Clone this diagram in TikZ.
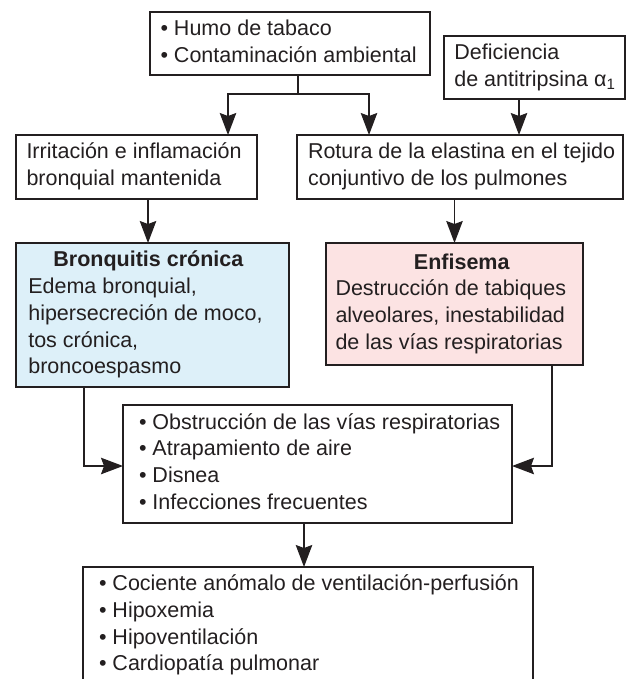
\documentclass[tikz,border=0pt]{standalone}
\usepackage{fontspec}
\setmainfont{Liberation Sans}
\usetikzlibrary{arrows.meta}
\definecolor{ink}{HTML}{231F20}
\definecolor{bluefill}{RGB}{221,240,249}
\definecolor{pinkfill}{RGB}{252,227,227}
\newcommand{\bx}[3]{\makebox[#1][l]{\hspace*{#2}\begin{tabular}{@{}l@{}}#3\end{tabular}}}
\begin{document}
\begin{tikzpicture}[x=1pt,y=-1pt,color=ink,line width=1.3pt,
  txt/.style={font=\fontsize{21.5}{26.7}\selectfont},
  boxnode/.style={draw=ink,rectangle,inner sep=0pt,outer sep=0pt,minimum height=#1,txt},
  arr/.style={-{Stealth[length=22pt,width=16.5pt,inset=3pt]}}]
\useasboundingbox (0,0) rectangle (630,679);
\clip (0,0) rectangle (630,679);
% boxes
\node[boxnode=63] (top) at (290,43.5) {\bx{280pt}{10.5pt}{• Humo de tabaco\\ • Contaminación ambiental}};
\node[boxnode=63] (def) at (534.5,67.5) {\bx{181pt}{10.3pt}{Deficiencia\\ de~antitripsina~α\textsubscript{1}}};
\node[boxnode=64] (irr) at (136.5,167) {\bx{241pt}{10.5pt}{Irritación e inflamación\\ bronquial mantenida}};
\node[boxnode=64] (rot) at (460,167) {\bx{326pt}{11pt}{Rotura de la elastina en el tejido\\ conjuntivo de los pulmones}};
\node[boxnode=144,fill=bluefill] (bron) at (152.5,315) {\bx{273pt}{12.3pt}{\multicolumn{1}{@{}c@{}}{\hspace*{6pt}\textbf{Bronquitis crónica}}\\ Edema bronquial,\\ hipersecreción de moco,\\ tos crónica,\\ broncoespasmo}};
\node[boxnode=122,fill=pinkfill] (enf) at (454.5,304) {\bx{257pt}{9.5pt}{\multicolumn{1}{@{}c@{}}{\hspace*{22pt}\textbf{Enfisema}}\\ Destrucción de tabiques\\ alveolares, inestabilidad\\ de las vías respiratorias}};
\node[boxnode=118] (obs) at (317.5,464) {\bx{389pt}{16pt}{• Obstrucción de las vías respiratorias\\ • Atrapamiento de aire\\ • Disnea\\ • Infecciones frecuentes}};
\node[boxnode=117] (bot) at (308,625.5) {\bx{450pt}{16pt}{• Cociente anómalo de ventilación-perfusión\\ • Hipoxemia\\ • Hipoventilación\\ • Cardiopatía pulmonar}};
% helper coordinates
\coordinate (j) at (298,94);
\coordinate (xl) at (228,0);
\coordinate (xr) at (369,0);
\coordinate (xd) at (519,0);
\coordinate (xb) at (148,0);
\coordinate (xbl) at (84,0);
\coordinate (xer) at (552,0);
\coordinate (xo) at (304,0);
\coordinate (yo) at (0,466);
% connectors
\draw (top.south -| j) -- (j);
\draw[arr] (j) -| (irr.north -| xl);
\draw[arr] (j) -| (rot.north -| xr);
\draw[arr] (def.south -| xd) -- (rot.north -| xd);
\draw[arr] (irr.south -| xb) -- (bron.north -| xb);
\draw[arr] (rot.south -| enf.north) -- (enf.north);
\draw[arr] (bron.south -| xbl) |- (obs.west |- yo);
\draw[arr] (enf.south -| xer) |- (obs.east |- yo);
\draw[arr] (obs.south -| xo) -- (bot.north -| xo);
\end{tikzpicture}
\end{document}
